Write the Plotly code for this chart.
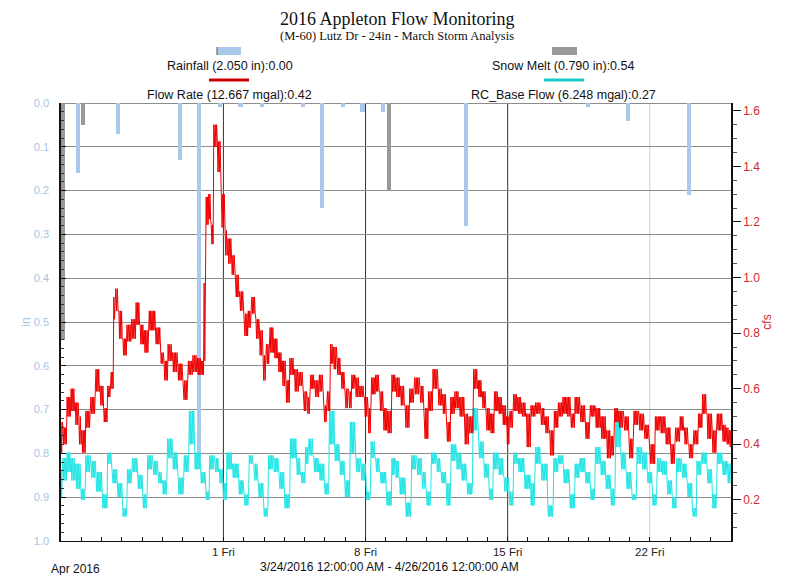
import pandas as pd
import plotly.graph_objects as go

START = pd.Timestamp("2016-03-24")

# ---------------- data (days since 3/24/2016 00:00) ----------------
rain_day = [0.85, 2.83, 5.88, 6.81, 7.85, 8.84, 9.9, 11.9, 12.87, 13.88, 14.85, 15.84, 19.95, 25.96, 27.93, 30.95]
rain_in = [0.16, 0.07, 0.13, 0.81, 0.01, 0.01, 0.01, 0.01, 0.24, 0.01, 0.02, 0.02, 0.28, 0.01, 0.04, 0.21]

snow_day = [0.1, 1.1, 16.16]
snow_in = [0.54, 0.05, 0.20]

flow_day = [0.0, 0.2, 0.4, 0.6, 0.8, 0.95, 1.1, 1.35, 1.6, 1.85, 2.0, 2.2, 2.4, 2.55, 2.65, 2.75, 2.95,
            3.15, 3.35, 3.6, 3.8, 4.0, 4.2, 4.5, 4.8, 5.0, 5.15, 5.4, 5.6, 5.9, 6.15, 6.4, 6.6, 6.85,
            7.0, 7.1, 7.2, 7.35, 7.45, 7.6, 7.8, 8.0, 8.15, 8.3, 8.5, 8.7, 8.9, 9.15, 9.3, 9.5, 9.7,
            9.85, 10.05, 10.2, 10.4, 10.6, 10.8, 11.0, 11.15, 11.4, 11.6, 11.85, 12.05, 12.2, 12.4,
            12.6, 12.85, 13.05, 13.2, 13.35, 13.5, 13.7, 13.9, 14.1, 14.25, 14.4, 14.6, 14.85, 15.05,
            15.2, 15.4, 15.6, 15.8, 15.95, 16.2, 16.4, 16.6, 16.85, 17.05, 17.3, 17.55, 17.8, 18.0,
            18.2, 18.45, 18.7, 18.9, 19.1, 19.3, 19.5, 19.75, 20.0, 20.2, 20.45, 20.65, 20.85, 21.05,
            21.25, 21.45, 21.65, 21.85, 22.05, 22.2, 22.4, 22.6, 22.8, 23.05, 23.25, 23.5, 23.75,
            23.95, 24.2, 24.4, 24.6, 24.85, 25.0, 25.2, 25.45, 25.7, 25.95, 26.2, 26.45, 26.75, 27.0,
            27.2, 27.35, 27.6, 27.85, 28.1, 28.35, 28.6, 28.85, 29.15, 29.4, 29.65, 29.9, 30.15, 30.4,
            30.6, 30.8, 31.05, 31.3, 31.5, 31.7, 31.95, 32.2, 32.45, 32.7, 32.85, 33.0]
flow_hi = [0.48, 0.46, 0.57, 0.60, 0.55, 0.50, 0.45, 0.52, 0.57, 0.67, 0.61, 0.53, 0.61, 0.66, 0.93, 0.96, 0.88,
           0.78, 0.83, 0.85, 0.91, 0.83, 0.81, 0.88, 0.82, 0.73, 0.70, 0.76, 0.73, 0.69, 0.63, 0.70, 0.72, 0.71,
           0.70, 0.98, 1.29, 1.30, 1.19, 1.55, 1.49, 1.30, 1.17, 1.14, 1.08, 1.01, 0.95, 0.87, 0.88, 0.93, 0.85,
           0.81, 0.72, 0.76, 0.82, 0.78, 0.73, 0.70, 0.63, 0.71, 0.67, 0.66, 0.59, 0.57, 0.65,
           0.63, 0.65, 0.54, 0.59, 0.76, 0.75, 0.71, 0.66, 0.60, 0.59, 0.65, 0.64, 0.61, 0.57,
           0.53, 0.64, 0.65, 0.59, 0.53, 0.52, 0.65, 0.64, 0.61, 0.54, 0.60, 0.64, 0.61, 0.53,
           0.59, 0.67, 0.60, 0.58, 0.48, 0.57, 0.59, 0.57, 0.51, 0.50, 0.67, 0.63, 0.59, 0.53,
           0.51, 0.59, 0.57, 0.54, 0.50, 0.52, 0.58, 0.57, 0.55, 0.51, 0.54, 0.55, 0.53,
           0.50, 0.45, 0.52, 0.55, 0.57, 0.57, 0.51, 0.57, 0.54, 0.48, 0.54, 0.53, 0.50, 0.45,
           0.43, 0.53, 0.52, 0.50, 0.42, 0.52, 0.51, 0.47, 0.40, 0.50, 0.50, 0.46, 0.40, 0.46,
           0.50, 0.46, 0.40, 0.45, 0.51, 0.58, 0.51, 0.45, 0.51, 0.47, 0.46, 0.45]
flow_lo = [0.37, 0.40, 0.50, 0.52, 0.47, 0.40, 0.37, 0.46, 0.51, 0.59, 0.54, 0.48, 0.57, 0.60, 0.85, 0.88, 0.78,
           0.72, 0.77, 0.78, 0.83, 0.76, 0.73, 0.81, 0.76, 0.69, 0.63, 0.70, 0.66, 0.63, 0.56, 0.65, 0.66, 0.65,
           0.65, 0.70, 1.19, 1.21, 1.12, 1.47, 1.38, 1.18, 1.08, 1.05, 1.01, 0.93, 0.88, 0.79, 0.82, 0.87, 0.78,
           0.72, 0.63, 0.69, 0.73, 0.71, 0.66, 0.61, 0.55, 0.65, 0.59, 0.61, 0.52, 0.51, 0.60,
           0.57, 0.59, 0.48, 0.52, 0.69, 0.67, 0.65, 0.60, 0.53, 0.53, 0.60, 0.57, 0.57, 0.50,
           0.44, 0.58, 0.59, 0.52, 0.45, 0.44, 0.59, 0.57, 0.54, 0.46, 0.55, 0.58, 0.55, 0.42,
           0.52, 0.60, 0.54, 0.51, 0.41, 0.51, 0.53, 0.50, 0.40, 0.44, 0.60, 0.57, 0.53, 0.45,
           0.44, 0.52, 0.51, 0.47, 0.40, 0.46, 0.52, 0.51, 0.50, 0.39, 0.50, 0.51, 0.47,
           0.44, 0.36, 0.46, 0.50, 0.51, 0.50, 0.46, 0.51, 0.48, 0.42, 0.50, 0.46, 0.42, 0.35,
           0.36, 0.48, 0.46, 0.45, 0.35, 0.47, 0.45, 0.42, 0.33, 0.45, 0.44, 0.40, 0.33, 0.41,
           0.45, 0.40, 0.35, 0.40, 0.46, 0.51, 0.42, 0.37, 0.45, 0.41, 0.40, 0.39]

base_day = [0.0, 0.2, 0.4, 0.6, 0.85, 1.1, 1.35, 1.6, 1.85, 2.2, 2.4, 2.65, 2.9, 3.15, 3.4, 3.65, 3.9,
            4.15, 4.4, 4.65, 4.9, 5.1, 5.4, 5.6, 5.95, 6.2, 6.45, 6.7, 7.05, 7.2, 7.45, 7.7, 7.9, 8.05,
            8.3, 8.6, 8.9, 9.15, 9.4, 9.6, 9.85, 10.1, 10.35, 10.6, 10.9, 11.1, 11.5, 11.7, 11.95, 12.15,
            12.3, 12.6, 12.85, 13.1, 13.35, 13.6, 13.85, 14.1, 14.4, 14.65, 14.9, 15.15, 15.4, 15.6,
            15.85, 16.2, 16.4, 16.55, 16.8, 17.15, 17.4, 17.65, 17.9, 18.1, 18.4, 18.6, 18.85, 19.1,
            19.35, 19.6, 19.85, 20.15, 20.45, 20.7, 20.95, 21.2, 21.4, 21.7, 21.95, 22.2, 22.4, 22.65,
            23.0, 23.25, 23.5, 23.8, 24.15, 24.4, 24.6, 24.9, 25.2, 25.45, 25.7, 25.95, 26.2, 26.45,
            26.7, 26.95, 27.2, 27.45, 27.7, 28.0, 28.25, 28.5, 28.75, 29.0, 29.25, 29.5, 29.7, 30.0,
            30.2, 30.45, 30.7, 31.0, 31.2, 31.45, 31.7, 31.95, 32.2, 32.45, 32.7, 32.95]
base_hi = [0.31, 0.35, 0.37, 0.35, 0.33, 0.24, 0.36, 0.34, 0.30, 0.22, 0.37, 0.31, 0.26, 0.17, 0.31, 0.35, 0.29,
           0.22, 0.36, 0.34, 0.30, 0.27, 0.42, 0.37, 0.28, 0.36, 0.52, 0.37, 0.30, 0.23, 0.36, 0.35, 0.31, 0.26,
           0.37, 0.33, 0.27, 0.22, 0.36, 0.33, 0.26, 0.17, 0.36, 0.35, 0.30, 0.22, 0.42, 0.35, 0.30, 0.39,
           0.42, 0.35, 0.33, 0.26, 0.52, 0.40, 0.34, 0.27, 0.48, 0.35, 0.33, 0.23, 0.41, 0.35,
           0.30, 0.23, 0.35, 0.34, 0.28, 0.19, 0.36, 0.35, 0.30, 0.23, 0.37, 0.35, 0.30, 0.26,
           0.40, 0.37, 0.33, 0.26, 0.53, 0.41, 0.33, 0.24, 0.37, 0.35, 0.28, 0.23, 0.37, 0.35,
           0.29, 0.26, 0.39, 0.33, 0.18, 0.35, 0.36, 0.31, 0.22, 0.33, 0.35, 0.30, 0.24, 0.39,
           0.34, 0.29, 0.24, 0.52, 0.37, 0.30, 0.22, 0.39, 0.37, 0.30, 0.22, 0.35, 0.34, 0.27,
           0.21, 0.35, 0.33, 0.26, 0.17, 0.34, 0.37, 0.31, 0.22, 0.37, 0.34, 0.33]
base_lo = [0.21, 0.27, 0.30, 0.27, 0.24, 0.20, 0.30, 0.28, 0.23, 0.17, 0.33, 0.26, 0.21, 0.14, 0.26, 0.30, 0.24,
           0.17, 0.31, 0.29, 0.26, 0.22, 0.35, 0.31, 0.22, 0.30, 0.40, 0.31, 0.26, 0.20, 0.31, 0.30, 0.26, 0.20,
           0.31, 0.28, 0.22, 0.18, 0.33, 0.27, 0.21, 0.14, 0.31, 0.30, 0.24, 0.17, 0.35, 0.29, 0.26, 0.33,
           0.36, 0.30, 0.27, 0.22, 0.40, 0.34, 0.29, 0.21, 0.37, 0.30, 0.27, 0.20, 0.35, 0.30,
           0.26, 0.18, 0.29, 0.28, 0.22, 0.14, 0.31, 0.29, 0.24, 0.18, 0.33, 0.30, 0.26, 0.18,
           0.34, 0.31, 0.27, 0.22, 0.45, 0.35, 0.28, 0.20, 0.31, 0.29, 0.23, 0.18, 0.33, 0.30,
           0.24, 0.18, 0.33, 0.27, 0.14, 0.30, 0.33, 0.26, 0.17, 0.28, 0.30, 0.26, 0.20, 0.33,
           0.29, 0.24, 0.18, 0.39, 0.31, 0.24, 0.20, 0.33, 0.31, 0.26, 0.18, 0.30, 0.29, 0.22,
           0.17, 0.30, 0.28, 0.21, 0.14, 0.29, 0.33, 0.26, 0.17, 0.33, 0.29, 0.26]

week_ticks = ["2016-04-01", "2016-04-08", "2016-04-15", "2016-04-22"]
week_labels = ["1 Fri", "8 Fri", "15 Fri", "22 Fri"]
x_range = ["2016-03-24", "2016-04-26"]

title_text = "2016 Appleton Flow Monitoring"
subtitle_text = "(M-60) Lutz Dr - 24in - March Storm Analysis"
rain_label = "Rainfall (2.050 in):0.00"
snow_label = "Snow Melt (0.790 in):0.54"
flow_label = "Flow Rate (12.667 mgal):0.42"
base_label = "RC_Base Flow (6.248 mgal):0.27"
range_label = "3/24/2016 12:00:00 AM - 4/26/2016 12:00:00 AM"
month_label = "Apr 2016"

# ---------------- helpers ----------------
def to_time(days):
    return [START + pd.Timedelta(days=d) for d in days]


def noisy_band(days, hi, lo, step=0.035):
    """Trace each reading's high/low envelope as a dense jagged line over its time slot."""
    t, v = [], []
    n = len(days)
    for i in range(n):
        a = days[i] - (days[i] - days[i - 1]) / 2 if i > 0 else days[i]
        b = days[i] + (days[i + 1] - days[i]) / 2 if i < n - 1 else days[i] + 0.1
        k = max(2, int(round((b - a) / step)))
        for j in range(k):
            t.append(a + (b - a) * j / k)
            v.append(hi[i] if j % 2 == 0 else lo[i])
    return to_time(t), v


RAIN_C = "#a9c9ec"
SNOW_C = "#999999"
FLOW_C = "#ee0000"
BASE_C = "#22e5e5"
FONT = "Liberation Sans, Arial, sans-serif"
SERIF = "Liberation Serif, Times New Roman, serif"
DAY_MS = 86400000

fig = go.Figure()
fig.add_trace(go.Bar(x=to_time(rain_day), y=rain_in, width=0.2 * DAY_MS,
                     marker=dict(color=RAIN_C, line=dict(width=0)), yaxis="y", name="Rainfall"))
fig.add_trace(go.Bar(x=to_time(snow_day), y=snow_in, width=0.2 * DAY_MS,
                     marker=dict(color=SNOW_C, line=dict(width=0)), yaxis="y", name="Snow Melt"))

bt, bv = noisy_band(base_day, base_hi, base_lo)
fig.add_trace(go.Scatter(x=bt, y=bv, mode="lines", line=dict(color=BASE_C, width=1),
                         yaxis="y2", name="RC_Base Flow"))
ft, fv = noisy_band(flow_day, flow_hi, flow_lo)
fig.add_trace(go.Scatter(x=ft, y=fv, mode="lines", line=dict(color=FLOW_C, width=1),
                         yaxis="y2", name="Flow Rate"))

# The page body has an 8px margin: figure coordinates = screen coordinates - 8
OFF = 8
W, H = 785 - OFF, 575 - OFF
L, R, T, B = 61 - OFF, 54, 103 - OFF, 34
PW, PH = W - L - R, H - T - B


def px(xs):
    return (xs - OFF - L) / PW


def py(ys):
    return (H - B - (ys - OFF)) / PH


shapes = []
grid_cols = ["#333333", "#333333", "#333333", "#cfcfcf"]
for wt, gc in zip(week_ticks, grid_cols):
    shapes.append(dict(type="line", xref="x", yref="paper", x0=wt, x1=wt, y0=0, y1=1,
                       line=dict(color=gc, width=1), layer="below"))
# legend swatches
shapes.append(dict(type="rect", xref="paper", yref="paper", x0=px(217), x1=px(241), y0=py(55), y1=py(47),
                   fillcolor=RAIN_C, line=dict(width=0)))
shapes.append(dict(type="line", xref="paper", yref="paper", x0=px(217), x1=px(217), y0=py(55), y1=py(47),
                   line=dict(color="#555555", width=1)))
shapes.append(dict(type="rect", xref="paper", yref="paper", x0=px(552), x1=px(577), y0=py(55), y1=py(47),
                   fillcolor=SNOW_C, line=dict(width=0)))
shapes.append(dict(type="line", xref="paper", yref="paper", x0=px(209), x1=px(249), y0=py(80), y1=py(80),
                   line=dict(color="#cc0000", width=3)))
shapes.append(dict(type="line", xref="paper", yref="paper", x0=px(544), x1=px(584), y0=py(80), y1=py(80),
                   line=dict(color="#19c9c9", width=3)))

ann = []


def add_text(text, x, y, size, family=FONT, anchor="center", color="#111111"):
    ann.append(dict(text=text, xref="paper", yref="paper", x=px(x), y=py(y), xanchor=anchor,
                    yanchor="middle", showarrow=False, font=dict(family=family, size=size, color=color)))


add_text(title_text, 397.5, 18.5, 18, SERIF)
add_text(subtitle_text, 396.5, 36, 12.5, SERIF)
add_text(rain_label, 229.5, 66, 12.5)
add_text(flow_label, 229.5, 95, 12.5)
add_text(snow_label, 563, 66, 12.5)
add_text(base_label, 563, 95, 12.5)
add_text(range_label, 389, 567, 12)
add_text(month_label, 49, 569, 12, anchor="left")

fig.update_layout(
    width=W, height=H,
    margin=dict(l=L, r=R, t=T, b=B),
    paper_bgcolor="white", plot_bgcolor="white",
    showlegend=False, barmode="overlay", bargap=0,
    shapes=shapes, annotations=ann,
    font=dict(family=FONT, size=11, color="#222222"),
    xaxis=dict(type="date", range=x_range, tickvals=week_ticks, ticktext=week_labels,
               showgrid=False, zeroline=False, showline=True, linecolor="#111111", linewidth=1,
               ticks="inside", ticklen=4, tickcolor="#111111",
               tickfont=dict(family=FONT, size=11.5, color="#222222"),
               minor=dict(ticks="inside", ticklen=4, tickcolor="#111111", dtick=DAY_MS,
                          tick0="2016-03-24", showgrid=False)),
    yaxis=dict(range=[1.0, 0.0], dtick=0.1, tick0=0, tickformat=".1f",
               showgrid=True, gridcolor="#8c8c8c", gridwidth=1,
               zeroline=True, zerolinecolor="#8c8c8c", zerolinewidth=1,
               showline=True, linecolor="#111111", linewidth=1.5,
               ticks="inside", ticklen=5, tickcolor="#111111",
               minor=dict(ticks="inside", ticklen=3, tickcolor="#333333", dtick=0.02, showgrid=False),
               ticklabelstandoff=8,
               tickfont=dict(family=FONT, size=11, color="#a6c4e4"),
               title=dict(text="in", font=dict(family=FONT, size=12, color="#a6c4e4"), standoff=1)),
    yaxis2=dict(range=[0.052, 1.628], dtick=0.2, tick0=0, tickformat=".1f", side="right",
                overlaying="y", showgrid=False, zeroline=False,
                showline=True, linecolor="#111111", linewidth=1.5,
                ticks="outside", ticklen=8, tickcolor="#111111",
                minor=dict(ticks="outside", ticklen=4, tickcolor="#555555", dtick=0.05),
                tickfont=dict(family=FONT, size=12, color="#d02a2a"),
                title=dict(text="cfs", font=dict(family=FONT, size=12, color="#d02a2a"), standoff=2)),
)

fig.write_html("out.html")
